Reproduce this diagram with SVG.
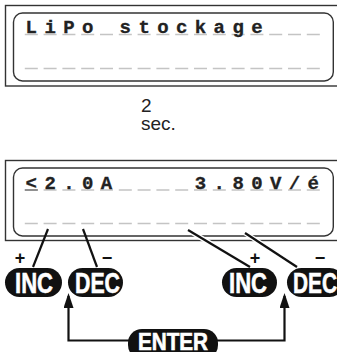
<svg xmlns="http://www.w3.org/2000/svg" width="337" height="352" viewBox="0 0 337 352">
<defs>
<style>
.outer{fill:none;stroke:#333;stroke-width:1.4}
.inner{fill:none;stroke:#333;stroke-width:1.4}
.cells{stroke:#c4c4c4;stroke-width:1.6;stroke-dasharray:13 5.8}
.lcd{font-family:"Liberation Mono","Courier New",monospace;font-weight:bold;font-size:19px;letter-spacing:7.4px;fill:#222;stroke:#222;stroke-width:0.3}
.lbl{font-family:"Liberation Sans",Arial,sans-serif;font-size:19px;fill:#222}
.pill{fill:#111}
.btn{font-family:"Liberation Sans",Arial,sans-serif;font-weight:bold;font-size:29px;fill:#fff;stroke:#fff;stroke-width:0.6}
.sign{font-family:"Liberation Sans",Arial,sans-serif;font-weight:bold;font-size:18px;fill:#111;text-anchor:middle}
.wire{fill:none;stroke:#111;stroke-width:2.2}
.halo{fill:none;stroke:#fff;stroke-width:5}
</style>
<marker id="arr" viewBox="0 0 15 10" refX="12" refY="5" markerWidth="15" markerHeight="10" markerUnits="userSpaceOnUse" orient="auto">
<path d="M0,0 L15,5 L0,10 z" fill="#111"/>
</marker>
</defs>
<rect width="337" height="352" fill="#fff"/>

<g id="display1">
<rect class="outer" x="5.5" y="5.5" width="345" height="80.5"/>
<rect class="inner" x="13.5" y="13" width="319.8" height="68" rx="9"/>
<line class="cells" x1="24.8" y1="34.5" x2="321" y2="34.5"/>
<line class="cells" x1="24.8" y1="68.5" x2="321" y2="68.5"/>
<text class="lcd" x="25.6" y="33">LiPo stockage</text>
</g>

<g id="delay">
<text class="lbl" x="141" y="112">2</text>
<text class="lbl" x="141" y="130">sec.</text>
</g>

<g id="display2">
<rect class="outer" x="5.5" y="160.5" width="345" height="80"/>
<rect class="inner" x="13.5" y="168" width="319.8" height="68" rx="9"/>
<line class="cells" x1="24.8" y1="190" x2="321" y2="190"/>
<line x1="24.8" y1="190" x2="37.8" y2="190" stroke="#888" stroke-width="1.8"/>
<line class="cells" x1="24.8" y1="223.5" x2="321" y2="223.5"/>
<text class="lcd" x="25.6" y="188.5" xml:space="preserve">&lt;2.0A    3.80V/é</text>
</g>

<g id="connectors">
<line class="wire" x1="48" y1="229" x2="33" y2="267"/>
<line class="wire" x1="83" y1="229" x2="97" y2="267"/>
<line class="halo" x1="188" y1="230" x2="250" y2="267"/>
<line class="wire" x1="188" y1="230" x2="250" y2="267"/>
<line class="halo" x1="245" y1="233" x2="297" y2="267"/>
<line class="wire" x1="245" y1="233" x2="297" y2="267"/>
<path class="wire" d="M130,340.5 H68.5 V296" stroke-width="2.5" marker-end="url(#arr)"/>
<path class="wire" d="M216,340.5 H284.5 V296" stroke-width="2.5" marker-end="url(#arr)"/>
</g>

<g id="inc-left">
<text class="sign" x="20" y="264">+</text>
<rect class="pill" x="5" y="268" width="57" height="29" rx="14.5"/>
<text class="btn" x="15" y="293" textLength="38" lengthAdjust="spacingAndGlyphs">INC</text>
</g>
<g id="dec-left">
<text class="sign" x="107" y="264">−</text>
<rect class="pill" x="68" y="268" width="55" height="29" rx="14.5"/>
<text class="btn" x="75" y="293" textLength="45" lengthAdjust="spacingAndGlyphs">DEC</text>
</g>
<g id="inc-right">
<text class="sign" x="255" y="264">+</text>
<rect class="pill" x="222" y="268" width="55" height="29" rx="14.5"/>
<text class="btn" x="229" y="293" textLength="38" lengthAdjust="spacingAndGlyphs">INC</text>
</g>
<g id="dec-right">
<text class="sign" x="320" y="264">−</text>
<rect class="pill" x="287" y="268" width="57" height="29" rx="14.5"/>
<text class="btn" x="293" y="293" textLength="44" lengthAdjust="spacingAndGlyphs">DEC</text>
</g>
<g id="enter">
<rect class="pill" x="128" y="329" width="90" height="30" rx="14"/>
<text class="btn" x="138" y="350" textLength="70" lengthAdjust="spacingAndGlyphs" style="font-size:23px">ENTER</text>
</g>
</svg>
